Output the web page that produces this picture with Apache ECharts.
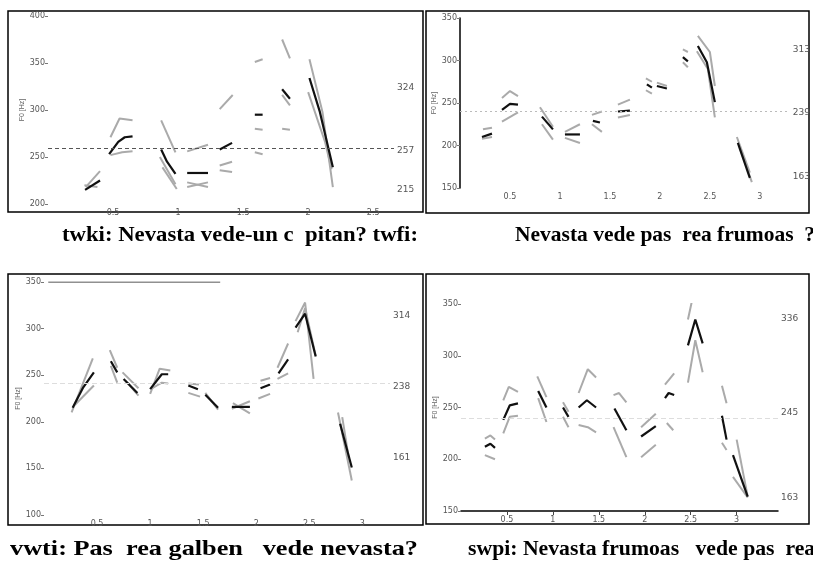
<!DOCTYPE html>
<html>
<head>
<meta charset="utf-8">
<script src="https://cdn.jsdelivr.net/npm/echarts@6/dist/echarts.min.js"></script>
<style>
  html, body { margin: 0; padding: 0; background: #fff; }
  #chart { width: 813px; height: 569px; }
</style>
</head>
<body>
<div id="chart"></div>
<script>
// ---- 数据 (F0 轮廓, 秒 / Hz) ----
const tlXTicks = [0.5, 1, 1.5, 2, 2.5]
const tlRight = [215, 257, 324]
const tlMean = 259
const tlBlack = [
  [[0.285, 215], [0.40, 225]],
  [[0.47, 253], [0.54, 266], [0.59, 271], [0.65, 272]],
  [[0.87, 258], [0.915, 245], [0.98, 232]],
  [[1.07, 233], [1.23, 233]],
  [[1.32, 258], [1.415, 265]],
  [[1.59, 295], [1.65, 295]],
  [[1.80, 322], [1.86, 312]],
  [[2.01, 334], [2.09, 298], [2.19, 239]]
]
const tlGrey = [
  [[0.29, 218], [0.40, 235]],
  [[0.28, 220], [0.38, 218]],
  [[0.48, 271], [0.55, 291], [0.65, 289]],
  [[0.48, 252], [0.57, 255], [0.65, 256]],
  [[0.87, 289], [0.98, 255]],
  [[0.86, 250], [0.98, 221]],
  [[0.88, 239], [0.99, 216]],
  [[1.07, 256], [1.23, 263]],
  [[1.07, 223], [1.23, 218]],
  [[1.07, 218], [1.23, 223]],
  [[1.32, 301], [1.42, 316]],
  [[1.32, 241], [1.415, 245]],
  [[1.32, 236], [1.415, 234]],
  [[1.59, 351], [1.65, 354]],
  [[1.59, 280], [1.65, 279]],
  [[1.59, 255], [1.65, 253]],
  [[1.80, 375], [1.86, 355]],
  [[1.80, 316], [1.86, 305]],
  [[1.80, 280], [1.86, 279]],
  [[2.01, 354], [2.11, 298], [2.19, 218]],
  [[2.00, 319], [2.13, 266], [2.18, 237]]
]

const trXTicks = [0.5, 1, 1.5, 2, 2.5, 3]
const trRight = [163, 239, 313]
const trMean = 240
const trBlack = [
  [[0.22, 210], [0.32, 214]],
  [[0.42, 242], [0.50, 249], [0.58, 248]],
  [[0.82, 234], [0.93, 219]],
  [[1.05, 213], [1.20, 213]],
  [[1.33, 229], [1.40, 227]],
  [[1.58, 240], [1.70, 241]],
  [[1.87, 272], [1.92, 268]],
  [[1.97, 270], [2.07, 267]],
  [[2.23, 304], [2.28, 299]],
  [[2.38, 317], [2.47, 298], [2.55, 251]],
  [[2.78, 203], [2.90, 162]]
]
const trGrey = [
  [[0.23, 219], [0.32, 221]],
  [[0.22, 208], [0.32, 210]],
  [[0.42, 256], [0.50, 264], [0.58, 258]],
  [[0.42, 228], [0.58, 239]],
  [[0.80, 245], [0.93, 222]],
  [[0.82, 225], [0.93, 207]],
  [[1.05, 216], [1.20, 225]],
  [[1.05, 209], [1.20, 203]],
  [[1.32, 236], [1.42, 240]],
  [[1.32, 225], [1.42, 216]],
  [[1.58, 248], [1.70, 254]],
  [[1.58, 233], [1.70, 236]],
  [[1.86, 279], [1.92, 275]],
  [[1.86, 265], [1.92, 261]],
  [[1.97, 274], [2.07, 270]],
  [[2.23, 313], [2.28, 310]],
  [[2.23, 298], [2.28, 292]],
  [[2.38, 329], [2.50, 310], [2.55, 270]],
  [[2.37, 311], [2.48, 290], [2.55, 233]],
  [[2.77, 210], [2.90, 168]],
  [[2.80, 197], [2.92, 157]]
]

const blXTicks = [0.5, 1, 1.5, 2, 2.5, 3]
const blRight = [161, 238, 314]
const blMean = 241
const blTopLine = [[0.04, 350], [1.66, 350]]
const blBlack = [
  [[0.27, 215], [0.37, 237], [0.47, 253]],
  [[0.63, 265], [0.69, 253]],
  [[0.75, 246], [0.88, 231]],
  [[1.00, 235], [1.11, 251], [1.17, 251]],
  [[1.36, 239], [1.45, 235]],
  [[1.52, 229], [1.64, 215]],
  [[1.77, 216], [1.94, 216]],
  [[2.04, 236], [2.13, 240]],
  [[2.21, 252], [2.30, 267]],
  [[2.37, 301], [2.46, 316], [2.56, 270]],
  [[2.79, 198], [2.90, 151]]
]
const blGrey = [
  [[0.26, 210], [0.46, 268]],
  [[0.29, 218], [0.47, 239]],
  [[0.62, 277], [0.69, 258]],
  [[0.63, 260], [0.69, 242]],
  [[0.74, 253], [0.89, 236]],
  [[0.77, 244], [0.89, 228]],
  [[1.00, 230], [1.09, 257], [1.19, 255]],
  [[1.02, 236], [1.11, 242], [1.17, 241]],
  [[1.36, 241], [1.46, 240]],
  [[1.36, 231], [1.47, 227]],
  [[1.52, 231], [1.64, 213]],
  [[1.77, 214], [1.94, 222]],
  [[1.78, 220], [1.94, 209]],
  [[2.04, 244], [2.13, 247]],
  [[2.02, 225], [2.13, 230]],
  [[2.20, 258], [2.30, 284]],
  [[2.20, 246], [2.30, 252]],
  [[2.37, 308], [2.46, 328], [2.54, 246]],
  [[2.39, 296], [2.46, 322], [2.56, 271]],
  [[2.77, 210], [2.90, 137]],
  [[2.81, 205], [2.87, 162]]
]

const brXTicks = [0.5, 1, 1.5, 2, 2.5, 3]
const brRight = [163, 245, 336]
const brMean = 240
const brBlack = [
  [[0.26, 212], [0.32, 215], [0.37, 211]],
  [[0.46, 238], [0.53, 252], [0.62, 254]],
  [[0.84, 266], [0.93, 250]],
  [[1.11, 250], [1.17, 241]],
  [[1.28, 250], [1.37, 257], [1.47, 250]],
  [[1.67, 249], [1.80, 228]],
  [[1.96, 222], [2.12, 232]],
  [[2.22, 259], [2.26, 264], [2.32, 262]],
  [[2.47, 310], [2.55, 335], [2.63, 312]],
  [[2.84, 242], [2.89, 219]],
  [[2.96, 204], [3.12, 164]]
]
const brGrey = [
  [[0.26, 220], [0.32, 223], [0.37, 219]],
  [[0.26, 204], [0.37, 200]],
  [[0.46, 257], [0.52, 270], [0.62, 265]],
  [[0.46, 225], [0.53, 241], [0.62, 242]],
  [[0.83, 280], [0.93, 260]],
  [[0.84, 259], [0.93, 236]],
  [[1.11, 255], [1.17, 246]],
  [[1.11, 241], [1.17, 231]],
  [[1.28, 264], [1.38, 287], [1.47, 279]],
  [[1.28, 233], [1.38, 231], [1.47, 226]],
  [[1.66, 262], [1.72, 264], [1.80, 255]],
  [[1.66, 231], [1.80, 202]],
  [[1.96, 231], [2.12, 244]],
  [[1.96, 202], [2.12, 214]],
  [[2.22, 272], [2.32, 283]],
  [[2.24, 235], [2.31, 228]],
  [[2.47, 335], [2.55, 368], [2.63, 361]],
  [[2.47, 274], [2.55, 315], [2.63, 284]],
  [[2.84, 271], [2.89, 254]],
  [[2.84, 216], [2.89, 209]],
  [[2.96, 183], [3.12, 163]],
  [[3.00, 219], [3.12, 164]]
]

// 标题
const captions = [
  'twki: Nevasta vede-un c  pitan? twfi:',
  'Nevasta vede pas  rea frumoas  ?',
  'vwti: Pas  rea galben   vede nevasta?',
  'swpi: Nevasta frumoas   vede pas  rea?'
]

// ---- 面板布局 ----
const panels = [
  { grid: { left: 48, top: 16, width: 346, height: 188 }, xMax: 2.66, yMin: 200, yMax: 400,
    xTicks: tlXTicks, right: tlRight, mean: tlMean, black: tlBlack, grey: tlGrey,
    meanStyle: { color: '#555', type: [4, 3], width: 1 }, yLine: false, xLine: false },
  { grid: { left: 460, top: 18, width: 330, height: 170 }, xMax: 3.3, yMin: 150, yMax: 350,
    xTicks: trXTicks, right: trRight, mean: trMean, black: trBlack, grey: trGrey,
    meanStyle: { color: '#bbb', type: [2, 3], width: 1 }, yLine: true, xLine: false },
  { grid: { left: 44, top: 282, width: 346, height: 233 }, xMax: 3.26, yMin: 100, yMax: 350,
    xTicks: blXTicks, right: blRight, mean: blMean, black: blBlack, grey: blGrey,
    meanStyle: { color: '#ddd', type: [5, 3], width: 1 }, yLine: false, xLine: false },
  { grid: { left: 461, top: 304, width: 317, height: 207 }, xMax: 3.45, yMin: 150, yMax: 350,
    xTicks: brXTicks, right: brRight, mean: brMean, black: brBlack, grey: brGrey,
    meanStyle: { color: '#ddd', type: [5, 3], width: 1 }, yLine: false, xLine: true }
]

const labelStyle = { color: '#555', fontSize: 8, fontFamily: 'DejaVu Sans' }

const grids = [], xAxes = [], yAxes = [], series = []

panels.forEach((p, i) => {
  grids.push(p.grid)

  xAxes.push({
    gridIndex: i, type: 'value', min: 0, max: p.xMax,
    splitLine: { show: false },
    axisLine: { show: p.xLine, onZero: false, lineStyle: { color: '#000', width: 1.5 } },
    axisTick: { show: p.xLine, length: 4, customValues: p.xTicks, lineStyle: { color: '#444' } },
    axisLabel: { ...labelStyle, margin: 5, customValues: p.xTicks }
  })

  // 左轴
  yAxes.push({
    gridIndex: i, type: 'value', position: 'left', min: p.yMin, max: p.yMax, interval: 50,
    name: 'F0 [Hz]', nameLocation: 'middle', nameGap: 20, nameRotate: 90,
    nameTextStyle: { color: '#666', fontSize: 7 },
    splitLine: { show: false },
    axisLine: { show: p.yLine, lineStyle: { color: '#000', width: 1.5 } },
    axisTick: { show: true, length: 3, lineStyle: { color: '#777' } },
    axisLabel: { ...labelStyle, margin: 3 }
  })
  // 右轴: 最小 / 均值 / 最大
  yAxes.push({
    gridIndex: i, type: 'value', position: 'right', min: p.yMin, max: p.yMax,
    splitLine: { show: false },
    axisLine: { show: false },
    axisTick: { show: false },
    axisLabel: { ...labelStyle, fontSize: 9, margin: 3, customValues: p.right }
  })

  // 均值线
  series.push({
    type: 'line', xAxisIndex: i, yAxisIndex: i * 2, data: [], silent: true,
    markLine: {
      silent: true, symbol: 'none', label: { show: false },
      lineStyle: p.meanStyle, data: [{ yAxis: p.mean }]
    }
  })

  p.grey.forEach(seg => series.push({
    type: 'line', xAxisIndex: i, yAxisIndex: i * 2, data: seg, symbol: 'none',
    silent: true, z: 2, lineStyle: { color: '#aaa', width: 2 }
  }))
  p.black.forEach(seg => series.push({
    type: 'line', xAxisIndex: i, yAxisIndex: i * 2, data: seg, symbol: 'none',
    silent: true, z: 3, lineStyle: { color: '#111', width: 2.2 }
  }))
})

// 左下图顶部黑线
series.push({
  type: 'line', xAxisIndex: 2, yAxisIndex: 4, data: blTopLine, symbol: 'none',
  silent: true, z: 3, lineStyle: { color: '#222', width: 1.2 }
})

const frame = (x, y, w, h) => ({
  type: 'rect', shape: { x, y, width: w, height: h }, silent: true,
  style: { fill: 'none', stroke: '#000', lineWidth: 1.5 }
})

// 标题按参考图宽度横向拉伸
const CAP_FONT = 'bold 21px "Liberation Serif"'
const measureCtx = document.createElement('canvas').getContext('2d')
const caption = (text, x0, x1, y) => {
  measureCtx.font = CAP_FONT
  const w = measureCtx.measureText(text).width
  return {
    type: 'text', x: x0, y, scaleX: (x1 - x0) / w, silent: true,
    style: { text, fill: '#000', font: CAP_FONT, textVerticalAlign: 'middle' }
  }
}

const myChart = echarts.init(document.getElementById('chart'), null, { renderer: 'canvas' })
myChart.setOption({
  animation: false,
  backgroundColor: '#fff',
  grid: grids,
  xAxis: xAxes,
  yAxis: yAxes,
  series,
  graphic: [
    frame(8, 11, 415, 201),
    frame(426, 11, 383, 202),
    frame(8, 274, 415, 251),
    frame(426, 274, 383, 250),
    caption(captions[0], 62, 418, 236),
    caption(captions[1], 515, 815, 236),
    caption(captions[2], 10, 418, 550),
    caption(captions[3], 468, 826, 550)
  ]
})
</script>
</body>
</html>
